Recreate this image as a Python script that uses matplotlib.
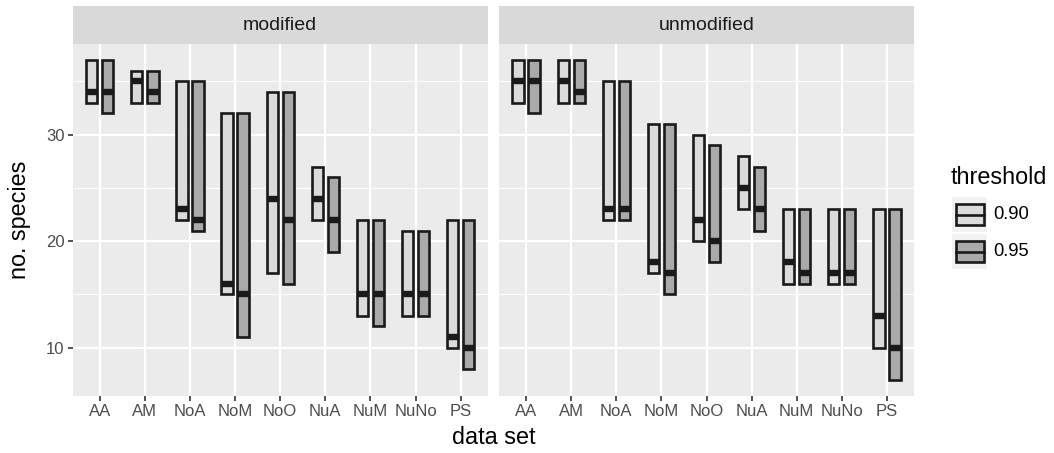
import matplotlib
matplotlib.use("Agg")
import matplotlib.pyplot as plt
import numpy as np
from matplotlib.patches import Rectangle

plt.rcParams['font.family'] = ['Liberation Sans', 'DejaVu Sans']

# 数据
categories = ['AA', 'AM', 'NoA', 'NoM', 'NoO', 'NuA', 'NuM', 'NuNo', 'PS']
panels = ['modified', 'unmodified']
thresholds = ['0.90', '0.95']

mod_090_lo = [33, 33, 22, 15, 17, 22, 13, 13, 10]
mod_090_mid = [34, 35, 23, 16, 24, 24, 15, 15, 11]
mod_090_hi = [37, 36, 35, 32, 34, 27, 22, 21, 22]
mod_095_lo = [32, 33, 21, 11, 16, 19, 12, 13, 8]
mod_095_mid = [34, 34, 22, 15, 22, 22, 15, 15, 10]
mod_095_hi = [37, 36, 35, 32, 34, 26, 22, 21, 22]

unmod_090_lo = [33, 33, 22, 17, 20, 23, 16, 16, 10]
unmod_090_mid = [35, 35, 23, 18, 22, 25, 18, 17, 13]
unmod_090_hi = [37, 37, 35, 31, 30, 28, 23, 23, 23]
unmod_095_lo = [32, 33, 22, 15, 18, 21, 16, 16, 7]
unmod_095_mid = [35, 34, 23, 17, 20, 23, 17, 17, 10]
unmod_095_hi = [37, 37, 35, 31, 29, 27, 23, 23, 23]

data = {
    'modified': [(mod_090_lo, mod_090_mid, mod_090_hi), (mod_095_lo, mod_095_mid, mod_095_hi)],
    'unmodified': [(unmod_090_lo, unmod_090_mid, unmod_090_hi), (unmod_095_lo, unmod_095_mid, unmod_095_hi)],
}

fills = ['#DBDBDB', '#AAAAAA']
edge = '#1A1A1A'
offsets = [-0.178, 0.178]
bar_w = 0.25

W, H = 1054, 453
fig = plt.figure(figsize=(W / 100, H / 100), dpi=100)


def fig_rect(x0, y0, x1, y1):
    # 像素坐标 -> figure 比例
    return [x0 / W, 1 - y1 / H, (x1 - x0) / W, (y1 - y0) / H]


panel_x = [(72.7, 487.7), (499.0, 914.0)]
x = np.arange(len(categories))

for i, name in enumerate(panels):
    x0, x1 = panel_x[i]
    ax = fig.add_axes(fig_rect(x0, 44, x1, 395.7))
    ax.set_facecolor('#EBEBEB')
    for s in ax.spines.values():
        s.set_visible(False)

    for j, (lo, mid, hi) in enumerate(data[name]):
        lo = np.array(lo)
        mid = np.array(mid)
        hi = np.array(hi)
        xs = x + offsets[j]
        ax.bar(xs, hi - lo, bottom=lo, width=bar_w, color=fills[j],
               edgecolor=edge, linewidth=1.9, zorder=3)
        ax.hlines(mid, xs - bar_w / 2, xs + bar_w / 2, colors=edge,
                  linewidth=4.6, zorder=4)

    ax.set_xlim(-0.6, len(categories) - 0.4)
    ax.set_ylim(5.5, 38.5)
    ax.set_xticks(x)
    ax.set_xticklabels(categories)
    ax.set_yticks([10, 20, 30])
    ax.set_yticks([15, 25, 35], minor=True)
    ax.grid(which='major', color='white', linewidth=1.6, zorder=1)
    ax.grid(which='minor', axis='y', color='white', linewidth=0.8, zorder=1)
    ax.set_axisbelow(True)
    ax.tick_params(axis='x', which='major', length=3.5, width=1.2, color='#333333',
                   labelsize=12, labelcolor='#4D4D4D', pad=2.5)
    ax.tick_params(which='minor', length=0)
    if i == 0:
        ax.tick_params(axis='y', which='major', length=3.5, width=1.2, color='#333333',
                       labelsize=12, labelcolor='#4D4D4D', pad=2.5)
    else:
        ax.tick_params(axis='y', which='major', length=0, labelleft=False)

    # 分面标题条
    sax = fig.add_axes(fig_rect(x0, 6, x1, 44))
    sax.set_facecolor('#D9D9D9')
    sax.set_xticks([])
    sax.set_yticks([])
    for s in sax.spines.values():
        s.set_visible(False)
    sax.text(0.5, 0.5, name, ha='center', va='center', fontsize=14,
             color='#1A1A1A', transform=sax.transAxes)

# 轴标题
fig.text(493.35 / W, 1 - 438 / H, 'data set', ha='center', va='center', fontsize=16.8)
fig.text(20 / W, 1 - 220 / H, 'no. species', ha='center', va='center',
         rotation=90, fontsize=16.8)

# 图例
fig.text(951 / W, 1 - 178 / H, 'threshold', ha='left', va='center', fontsize=16.8)
key_y = [(197, 232), (234, 269)]
for j, t in enumerate(thresholds):
    y0, y1 = key_y[j]
    kax = fig.add_axes(fig_rect(952, y0, 987, y1))
    kax.set_facecolor('#F2F2F2')
    kax.set_xlim(0, 1)
    kax.set_ylim(0, 1)
    kax.set_xticks([])
    kax.set_yticks([])
    for s in kax.spines.values():
        s.set_visible(False)
    kax.add_patch(Rectangle((0.1, 0.2), 0.8, 0.6, facecolor=fills[j],
                            edgecolor=edge, linewidth=1.9))
    kax.plot([0.1, 0.9], [0.5, 0.5], color=edge, linewidth=1.9)
    fig.text(993 / W, 1 - (y0 + y1) / 2 / H, t, ha='left', va='center', fontsize=13.2)

plt.savefig('out.png', dpi=100)
